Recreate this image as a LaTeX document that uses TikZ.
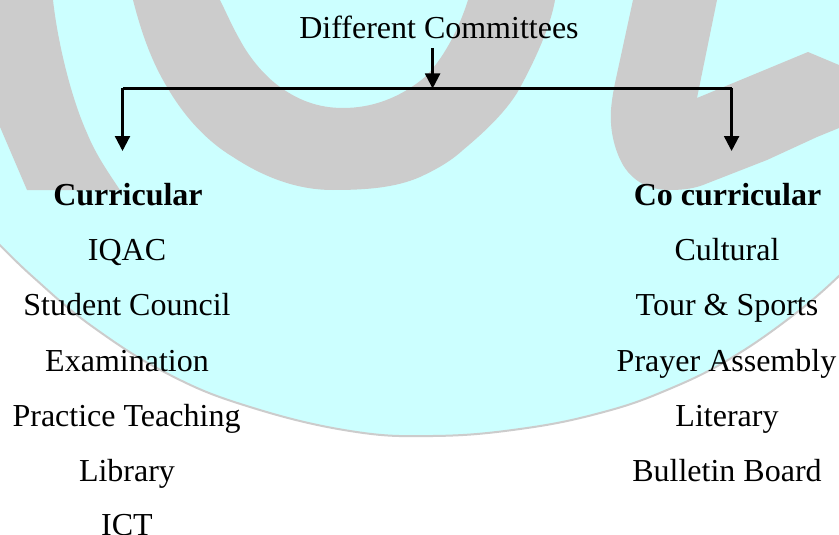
\documentclass[tikz,border=0pt]{standalone}
\usepackage{fontspec}
\setmainfont{Liberation Serif}
\usetikzlibrary{arrows.meta}
\definecolor{bgcyan}{HTML}{CCFFFF}
\definecolor{wmgray}{HTML}{CCCCCC}
\tikzset{
  lab/.style={anchor=base,inner sep=0pt,font=\fontsize{32}{32}\selectfont,text=black},
  blab/.style={lab,font=\fontsize{32}{32}\selectfont\bfseries},
  conn/.style={draw=black,line width=2.3pt},
  arr/.style={conn,-{Triangle[length=15pt,width=15pt]}},
  wm/.style={fill=wmgray,draw=none}
}
\begin{document}
\begin{tikzpicture}[x=1pt,y=-1pt]
\useasboundingbox (0,0) rectangle (839,535);
\fill[white] (0,0) rectangle (839,535);
% cyan disc with thin grey rim
\path[fill=bgcyan,draw=wmgray,line width=2pt]
  plot[smooth,tension=0.7] coordinates {(-6,239) (33,277) (93,327) (170,375) (250,407) (350,431) (433,436) (520,429) (600,413) (667,390) (733,357) (800,310) (842,273)}
  -- (845,-5) -- (-6,-5) -- cycle;
% watermark strokes
\fill[wm] (0,0) -- (53,0) .. controls (58,45) and (72,100) .. (87,133)
  .. controls (96,155) and (108,172) .. (120,190) -- (27,190) -- (0,127) -- cycle;
\fill[wm] (133,0) .. controls (142,35) and (152,62) .. (167,87)
  .. controls (185,118) and (208,142) .. (233,157)
  .. controls (265,178) and (298,190) .. (333,190)
  .. controls (365,190) and (395,188) .. (420,177)
  .. controls (435,170) and (450,162) .. (463,150)
  .. controls (487,130) and (505,112) .. (517,93)
  .. controls (530,70) and (550,30) .. (555,0)
  -- (468,0) .. controls (458,32) and (442,60) .. (425,77)
  .. controls (400,98) and (372,108) .. (343,108)
  .. controls (318,108) and (298,100) .. (280,87)
  .. controls (262,74) and (248,55) .. (240,40)
  .. controls (232,26) and (226,12) .. (220,0) -- cycle;
\fill[wm] (633,0) -- (615,83) .. controls (612,98) and (610,112) .. (611,123)
  .. controls (612,143) and (620,163) .. (628,172)
  .. controls (640,186) and (655,190) .. (670,190)
  .. controls (685,190) and (695,188) .. (703,185)
  -- (767,160) -- (817,137) -- (839,128) -- (839,65) -- (808,52) -- (697,98) -- (717,0) -- cycle;
% labels
\node[lab] (title) at (439,39) {Different Committees};
\node[blab] (cur) at (128,205) {Curricular};
\node[lab] (c1) at (127,260) {IQAC};
\node[lab] (c2) at (127,315) {Student Council};
\node[lab] (c3) at (127,371) {Examination};
\node[lab] (c4) at (126.5,426) {Practice Teaching};
\node[lab] (c5) at (127,481) {Library};
\node[lab] (c6) at (127,535.5) {ICT};
\node[blab] (co) at (727.5,205) {Co curricular};
\node[lab] (r1) at (727,260) {Cultural};
\node[lab] (r2) at (727,315) {Tour \& Sports};
\node[lab] (r3) at (726.5,371) {Prayer Assembly};
\node[lab] (r4) at (727,426) {Literary};
\node[lab] (r5) at (727,481) {Bulletin Board};
% connectors
\coordinate (tstart) at (432.6,48);
\coordinate (tend) at (432.6,88.5);
\coordinate (barL) at (122.5,88.5);
\coordinate (barR) at (731.6,88.5);
\coordinate (tipL) at (122.5,151);
\coordinate (tipR) at (731.6,151);
\draw[arr] (tstart) -- (tend);
\draw[conn] (barL) -- (barR);
\draw[arr] (barL) -- (tipL);
\draw[arr] (barR) -- (tipR);
\end{tikzpicture}
\end{document}
